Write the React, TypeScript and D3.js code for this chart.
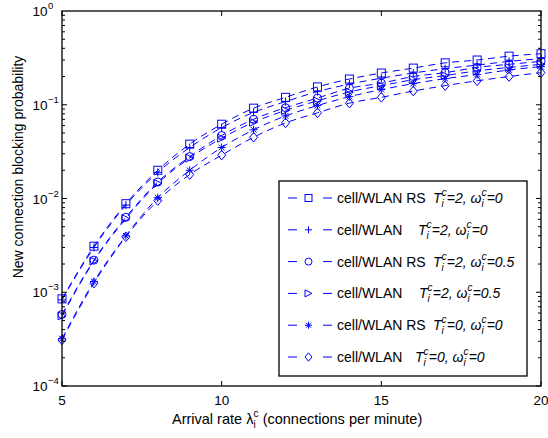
import React, { useEffect, useRef } from "react";
import * as d3 from "d3";

const arrivalRates = [5, 6, 7, 8, 9, 10, 11, 12, 13, 14, 15, 16, 17, 18, 19, 20];

const rsT2w0 = [8.5e-4, 3.1e-3, 8.8e-3, 0.02, 0.038, 0.062, 0.092, 0.12, 0.155, 0.188, 0.218, 0.246, 0.28, 0.3, 0.33, 0.35];
const wlanT2w0 = [8.3e-4, 3.0e-3, 8.5e-3, 0.019, 0.035, 0.057, 0.083, 0.108, 0.138, 0.166, 0.192, 0.218, 0.243, 0.265, 0.29, 0.31];
const rsT2w05 = [5.8e-4, 2.2e-3, 6.3e-3, 0.015, 0.028, 0.047, 0.07, 0.093, 0.118, 0.15, 0.17, 0.2, 0.22, 0.25, 0.27, 0.29];
const wlanT2w05 = [5.6e-4, 2.15e-3, 6.1e-3, 0.0145, 0.027, 0.044, 0.065, 0.087, 0.11, 0.137, 0.16, 0.185, 0.205, 0.23, 0.25, 0.27];
const rsT0w0 = [3.2e-4, 1.3e-3, 4.0e-3, 0.0102, 0.02, 0.035, 0.054, 0.076, 0.098, 0.122, 0.145, 0.168, 0.19, 0.21, 0.235, 0.255];
const wlanT0w0 = [3.1e-4, 1.25e-3, 3.9e-3, 0.0095, 0.018, 0.029, 0.045, 0.064, 0.082, 0.104, 0.12, 0.14, 0.16, 0.18, 0.2, 0.22];

const seriesNames = ["cell/WLAN RS", "cell/WLAN", "cell/WLAN RS", "cell/WLAN", "cell/WLAN RS", "cell/WLAN"];
const seriesT = ["2", "2", "2", "2", "0", "0"];
const seriesW = ["0", "0", "0.5", "0.5", "0", "0"];
const seriesMarkers = ["square", "plus", "circle", "triangle", "star", "diamond"];
const seriesValues = [rsT2w0, wlanT2w0, rsT2w05, wlanT2w05, rsT0w0, wlanT0w0];

const xTicks = [5, 10, 15, 20];
const yTickExps = [0, -1, -2, -3, -4];

const W = 548;
const H = 438;
const BLUE = "#0000ff";
const FONT = "'Liberation Sans', Arial, Helvetica, sans-serif";

function drawMarker(g: any, type: string, cx: number, cy: number, s: number) {
  const base = (sel: any) => sel.attr("fill", "none").attr("stroke", BLUE).attr("stroke-width", 1);
  if (type === "square") {
    base(g.append("rect").attr("x", cx - s).attr("y", cy - s).attr("width", 2 * s).attr("height", 2 * s));
  } else if (type === "plus") {
    base(g.append("path").attr("d", `M${cx - s},${cy}H${cx + s}M${cx},${cy - s}V${cy + s}`));
  } else if (type === "circle") {
    base(g.append("circle").attr("cx", cx).attr("cy", cy).attr("r", s));
  } else if (type === "triangle") {
    base(g.append("path").attr("d", `M${cx - s},${cy - s}L${cx + s},${cy}L${cx - s},${cy + s}Z`));
  } else if (type === "star") {
    const d = s * 0.72;
    base(
      g
        .append("path")
        .attr(
          "d",
          `M${cx - s},${cy}H${cx + s}M${cx},${cy - s}V${cy + s}M${cx - d},${cy - d}L${cx + d},${cy + d}M${cx - d},${cy + d}L${cx + d},${cy - d}`
        )
    );
  } else if (type === "diamond") {
    const t = s * 1.2;
    base(g.append("path").attr("d", `M${cx},${cy - t}L${cx + s},${cy}L${cx},${cy + t}L${cx - s},${cy}Z`));
  }
}

const App = () => {
  const svgRef = useRef<SVGSVGElement>(null);

  useEffect(() => {
    const svg = d3.select(svgRef.current);
    svg.selectAll("*").remove();

    const left = 62;
    const right = 541;
    const top = 11;
    const bottom = 386;

    const xScale = d3.scaleLinear().domain([5, 20]).range([left, right]);
    const yScale = d3.scaleLog().domain([1e-4, 1]).range([bottom, top]);

    svg.append("rect").attr("width", W).attr("height", H).attr("fill", "#fff");

    // series
    const line = d3
      .line<number>()
      .x((d, i) => xScale(arrivalRates[i]))
      .y((d) => yScale(d))
      .curve(d3.curveMonotoneX);

    const plot = svg.append("g");
    seriesValues.forEach((vals, k) => {
      plot
        .append("path")
        .attr("d", line(vals))
        .attr("fill", "none")
        .attr("stroke", BLUE)
        .attr("stroke-width", 1)
        .attr("stroke-dasharray", "7,5");
      vals.forEach((v, i) => drawMarker(plot, seriesMarkers[k], xScale(arrivalRates[i]), yScale(v), 4));
    });

    // axes box + ticks (inside, both sides)
    const ax = svg.append("g").attr("stroke", "#000").attr("fill", "none");
    ax.append("rect")
      .attr("x", left)
      .attr("y", top)
      .attr("width", right - left)
      .attr("height", bottom - top)
      .attr("stroke-width", 1.3);

    xTicks.forEach((t) => {
      const x = xScale(t);
      ax.append("line").attr("x1", x).attr("x2", x).attr("y1", bottom).attr("y2", bottom - 5);
      ax.append("line").attr("x1", x).attr("x2", x).attr("y1", top).attr("y2", top + 5);
    });

    for (let e = -4; e < 0; e++) {
      for (let m = 1; m <= 9; m++) {
        const v = m * Math.pow(10, e);
        const y = yScale(v);
        const len = m === 1 ? 5 : 3;
        ax.append("line").attr("x1", left).attr("x2", left + len).attr("y1", y).attr("y2", y);
        ax.append("line").attr("x1", right).attr("x2", right - len).attr("y1", y).attr("y2", y);
      }
    }

    // tick labels
    const labels = svg.append("g").attr("font-family", FONT).attr("fill", "#000");
    xTicks.forEach((t) => {
      labels
        .append("text")
        .attr("x", xScale(t))
        .attr("y", 405)
        .attr("text-anchor", "middle")
        .attr("font-size", 13.5)
        .text(t);
    });
    yTickExps.forEach((e) => {
      const y = yScale(Math.pow(10, e));
      labels
        .append("text")
        .attr("x", 47.5)
        .attr("y", y + 5)
        .attr("font-size", 13.5)
        .attr("text-anchor", "end")
        .text("10");
      labels
        .append("text")
        .attr("x", 48)
        .attr("y", y - 2)
        .attr("font-size", 9.5)
        .text(e === 0 ? "0" : "\u2212" + Math.abs(e));
    });

    // axis titles
    labels
      .append("text")
      .attr("transform", `translate(23,167) rotate(-90)`)
      .attr("text-anchor", "middle")
      .attr("font-size", 14)
      .text("New connection blocking probability");

    const xl = labels.append("text").attr("x", 172).attr("y", 424).attr("font-size", 14.5);
    xl.append("tspan").text("Arrival rate \u03bb");
    xl.append("tspan").attr("font-size", 10).attr("dy", -7).text("c");
    xl.append("tspan").attr("font-size", 10).attr("dx", -5).attr("dy", 11).text("i");
    xl.append("tspan").attr("dx", 3).attr("dy", -4).text(" (connections per minute)");

    // legend
    const lg = svg.append("g");
    lg.append("rect")
      .attr("x", 279)
      .attr("y", 181)
      .attr("width", 248)
      .attr("height", 195)
      .attr("fill", "#fff")
      .attr("stroke", "#000")
      .attr("stroke-width", 1.3);

    const tPos = [433, 418, 433, 419, 433, 415];
    seriesNames.forEach((name, k) => {
      const y = 198 + k * 31.8;
      lg.append("line")
        .attr("x1", 288)
        .attr("x2", 332)
        .attr("y1", y)
        .attr("y2", y)
        .attr("stroke", BLUE)
        .attr("stroke-width", 1)
        .attr("stroke-dasharray", "9,26");
      drawMarker(lg, seriesMarkers[k], 308.5, y, 3.5);

      const tg = lg.append("g").attr("font-family", FONT).attr("fill", "#000");
      tg.append("text").attr("x", 337).attr("y", y + 5).attr("font-size", 14).text(name);
      const it = tg.append("text").attr("x", tPos[k]).attr("y", y + 5).attr("font-size", 14).attr("font-style", "italic");
      it.append("tspan").text("T");
      it.append("tspan").attr("font-size", 10).attr("dy", -7).text("c");
      it.append("tspan").attr("font-size", 10).attr("dx", -5).attr("dy", 11).text("i");
      it.append("tspan").attr("dx", 3).attr("dy", -4).text(`=${seriesT[k]}, \u03c9`);
      it.append("tspan").attr("font-size", 10).attr("dy", -7).text("c");
      it.append("tspan").attr("font-size", 10).attr("dx", -5).attr("dy", 11).text("i");
      it.append("tspan").attr("dx", 3).attr("dy", -4).text(`=${seriesW[k]}`);
    });
  }, []);

  return (
    <svg
      ref={svgRef}
      width={W}
      height={H}
      style={{ position: "absolute", left: 0, top: 0 }}
    />
  );
};

export default App;
